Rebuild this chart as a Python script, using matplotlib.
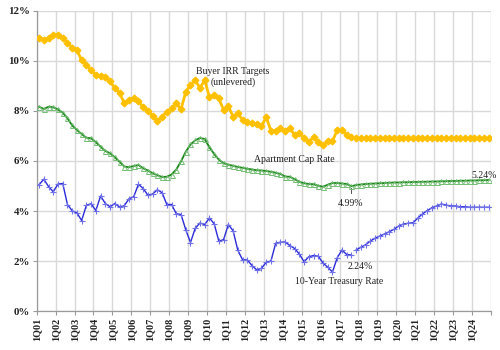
import matplotlib
matplotlib.use("Agg")
import matplotlib.pyplot as plt
import numpy as np

# quarterly series, 1Q01 .. 4Q24 (actuals through 3Q17, forecast after)
quarters = [f"{q}Q{y:02d}" for y in range(1, 25) for q in range(1, 5)]

irr_targets = [
    10.92, 10.82, 10.93, 11.05, 11.05, 10.90, 10.73, 10.53, 10.43, 10.03,
    9.85, 9.63, 9.44, 9.39, 9.35, 9.19, 8.92, 8.73, 8.31, 8.44,
    8.51, 8.39, 8.15, 8.00, 7.80, 7.60, 7.77, 7.97, 8.11, 8.30,
    8.07, 8.77, 9.04, 9.24, 8.91, 9.24, 8.55, 8.62, 8.50, 8.04,
    8.20, 7.77, 7.91, 7.64, 7.57, 7.51, 7.48, 7.40, 7.75, 7.21,
    7.21, 7.31, 7.21, 7.31, 7.04, 7.11, 6.93, 6.77, 6.95, 6.77,
    6.62, 6.81, 6.79, 7.24, 7.24, 7.04, 6.95,
    6.90, 6.90, 6.90, 6.90, 6.90, 6.90, 6.90, 6.90, 6.90, 6.90,
    6.90, 6.90, 6.90, 6.90, 6.90, 6.90, 6.90, 6.90, 6.90, 6.90,
    6.90, 6.90, 6.90, 6.90, 6.90, 6.90, 6.90, 6.90, 6.90,
]

cap_rate = [
    8.17, 8.08, 8.17, 8.15, 8.06, 7.93, 7.71, 7.42, 7.24, 7.08,
    6.93, 6.91, 6.75, 6.57, 6.40, 6.31, 6.15, 5.97, 5.78, 5.75,
    5.80, 5.84, 5.71, 5.62, 5.51, 5.43, 5.36, 5.37, 5.46, 5.66,
    5.99, 6.37, 6.66, 6.83, 6.92, 6.88, 6.55, 6.28, 6.05, 5.91,
    5.85, 5.81, 5.76, 5.73, 5.69, 5.66, 5.63, 5.62, 5.60, 5.57,
    5.53, 5.48, 5.38, 5.37, 5.27, 5.17, 5.11, 5.08, 5.07, 5.01,
    4.97, 5.05, 5.12, 5.12, 5.10, 5.08, 4.99,
    5.04, 5.06, 5.08, 5.09, 5.10, 5.11, 5.12, 5.13, 5.14, 5.14,
    5.15, 5.15, 5.16, 5.16, 5.17, 5.17, 5.18, 5.18, 5.19, 5.19,
    5.20, 5.20, 5.21, 5.21, 5.22, 5.22, 5.23, 5.23, 5.24,
]

treasury_actual = [
    5.05, 5.27, 4.98, 4.77, 5.08, 5.10, 4.26, 4.01, 3.92, 3.62,
    4.23, 4.29, 4.02, 4.60, 4.30, 4.17, 4.30, 4.16, 4.21, 4.49,
    4.57, 5.07, 4.90, 4.63, 4.68, 4.85, 4.73, 4.26, 4.26, 3.89,
    3.86, 3.25, 2.74, 3.31, 3.52, 3.46, 3.72, 3.49, 2.79, 2.86,
    3.46, 3.21, 2.43, 2.05, 2.04, 1.82, 1.64, 1.71, 1.95, 2.00,
    2.71, 2.75, 2.76, 2.62, 2.50, 2.28, 1.97, 2.17, 2.22, 2.19,
    1.92, 1.75, 1.56, 2.13, 2.44, 2.26, 2.24,
]
treasury_forecast = [
    2.44, 2.55, 2.65, 2.80, 2.91, 3.00, 3.08, 3.17, 3.27, 3.40,
    3.48, 3.51, 3.53, 3.71, 3.88, 4.01, 4.13, 4.20, 4.28, 4.24,
    4.20, 4.20, 4.17, 4.17, 4.15, 4.15, 4.15, 4.15, 4.15,
]

YTICKS = [0, 2, 4, 6, 8, 10, 12]

GOLD = "#FFC000"
GREEN = "#1A861A"
GREEN_LT = "#74BE74"
BLUE = "#2B2BD9"
BLUE_LT = "#7070E8"
GRID = "#D9D9D9"
INK = "#222222"

plt.rcParams["font.family"] = ["Liberation Serif", "DejaVu Serif"]

fig = plt.figure(figsize=(5.0, 3.5), dpi=100)
ax = fig.add_axes([0.0734, 0.1114, 0.9086, 0.8572])

x = np.arange(len(quarters))
n_act = len(treasury_actual)

ax.plot(x, irr_targets, color=GOLD, lw=2.0, marker="D", ms=3.4, mfc=GOLD, mec=GOLD, zorder=4)
ax.plot(x, cap_rate, color=GREEN, lw=1.3, marker="^", ms=3.6, mfc="none", mec=GREEN_LT,
        mew=0.7, zorder=3)
ax.plot(x[:n_act], treasury_actual, color=BLUE, lw=1.0, marker="+", ms=4.5, mec=BLUE_LT,
        mew=0.8, zorder=3)
ax.plot(x[n_act:], treasury_forecast, color=BLUE, lw=1.0, marker="+", ms=4.5, mec=BLUE_LT,
        mew=0.8, zorder=3)

ax.set_xlim(-0.5, len(quarters) - 0.5)
ax.set_ylim(0, 12)

ax.set_yticks(YTICKS)
ax.set_yticklabels([f"{v}%" for v in YTICKS], fontsize=7.8, fontweight="bold", color=INK)

bounds = np.arange(-0.5, len(quarters), 4)
ax.set_xticks(bounds)
ax.set_xticklabels([quarters[int(b + 0.5)] if b + 0.5 < len(quarters) else "" for b in bounds],
                   rotation=90, fontsize=7.3, fontweight="bold", color=INK)

ax.tick_params(axis="both", length=3, width=0.8, color="#9A9A9A", pad=2)
ax.grid(True, color=GRID, lw=1.0, zorder=0)
ax.set_axisbelow(True)
for side in ["top", "right"]:
    ax.spines[side].set_visible(False)
for side in ["left", "bottom"]:
    ax.spines[side].set_color("#9A9A9A")
    ax.spines[side].set_linewidth(0.9)

fs = 7.0
ax.text(41.0, 9.37, "Buyer IRR Targets\n(unlevered)", ha="center", va="center",
        fontsize=fs, color=INK, linespacing=1.2)
ax.text(53.9, 6.04, "Apartment Cap Rate", ha="center", va="center", fontsize=fs, color=INK)
ax.plot([66, 66], [4.93, 4.72], color="#555555", lw=0.7)
ax.text(65.9, 4.32, "4.99%", ha="center", va="center", fontsize=fs, color=INK)
ax.text(67.8, 1.8, "2.24%", ha="center", va="center", fontsize=fs, color=INK)
ax.text(63.4, 1.2, "10-Year Treasury Rate", ha="center", va="center", fontsize=fs, color=INK)
ax.text(96.8, 5.44, "5.24%", ha="right", va="center", fontsize=fs, color=INK, clip_on=False)

fig.savefig("out.png", dpi=100)
